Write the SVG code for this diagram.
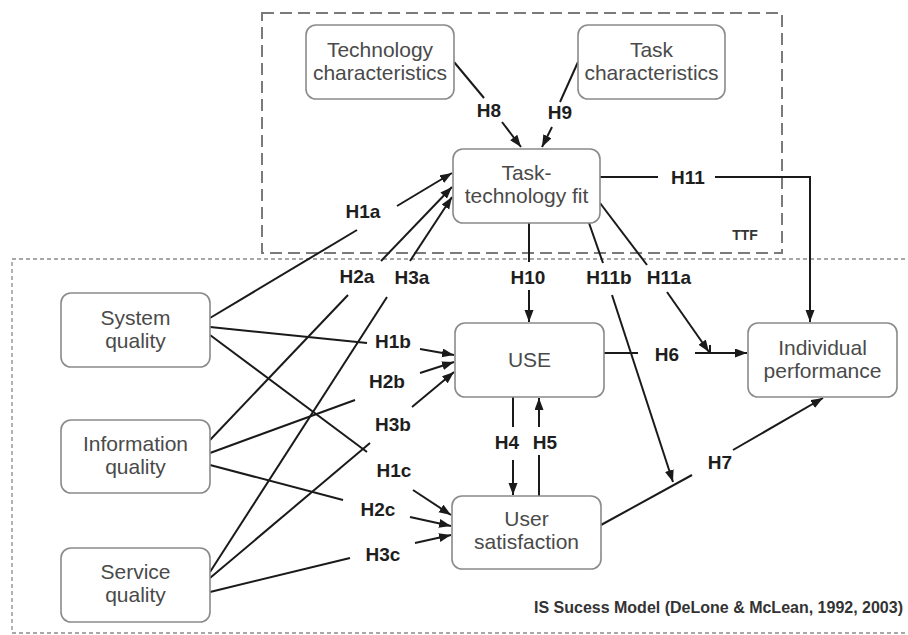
<svg xmlns="http://www.w3.org/2000/svg" width="908" height="635" viewBox="0 0 908 635">
<defs>
<marker id="ah" markerUnits="userSpaceOnUse" markerWidth="13" markerHeight="10" refX="12" refY="4.5" orient="auto">
<path d="M0,0 L12,4.5 L0,9 z" fill="#1a1a1a"/>
</marker>
<style>
.box{fill:#fff;stroke:#8a8a8a;stroke-width:1.6}
.nt{font-family:"Liberation Sans",Arial,sans-serif;font-size:21px;fill:#4a4a4a;text-anchor:middle}
.lb{font-family:"Liberation Sans",Arial,sans-serif;font-size:19px;font-weight:bold;fill:#1e1e1e;text-anchor:middle;dominant-baseline:central}
.ln{stroke:#1a1a1a;stroke-width:2;fill:none}
.ar{stroke:#1a1a1a;stroke-width:2;fill:none;marker-end:url(#ah)}
.fr1{fill:none;stroke:#7a7a7a;stroke-width:2;stroke-dasharray:12 6}
.fr2{fill:none;stroke:#8a8a8a;stroke-width:1.3;stroke-dasharray:4 3}
.ft{font-family:"Liberation Sans",Arial,sans-serif;font-weight:bold;fill:#333}
</style>
</defs>
<rect width="908" height="635" fill="#fff"/>

<g id="frames">
<rect class="fr1" x="262" y="13" width="520" height="240"/>
<rect class="fr2" x="12" y="259" width="900" height="374"/>
<text class="ft" x="745" y="240" font-size="14" text-anchor="middle">TTF</text>
<text class="ft" x="903" y="613" font-size="16" text-anchor="end">IS Sucess Model (DeLone &amp; McLean, 1992, 2003)</text>
</g>

<g id="connectors">
<!-- H8, H9 -->
<line class="ln" x1="454" y1="62" x2="484" y2="98"/>
<line class="ar" x1="502" y1="122" x2="521" y2="147"/>
<line class="ln" x1="578" y1="62" x2="560" y2="102"/>
<line class="ar" x1="552" y1="127" x2="542" y2="147"/>
<!-- H11 -->
<line class="ln" x1="600" y1="177" x2="658" y2="177"/>
<polyline class="ar" points="715,177 810,177 810,322"/>
<!-- H10 -->
<line class="ln" x1="529" y1="223" x2="529" y2="262"/>
<line class="ar" x1="529" y1="290" x2="529" y2="322"/>
<!-- H11b -->
<line class="ln" x1="589" y1="223" x2="603" y2="263"/>
<line class="ar" x1="612" y1="295" x2="673" y2="482"/>
<!-- H11a -->
<line class="ln" x1="600" y1="203" x2="647" y2="265"/>
<line class="ar" x1="667" y1="292" x2="709" y2="352"/>
<line class="ln" x1="710" y1="345" x2="710" y2="353"/>
<!-- H6 -->
<line class="ln" x1="604" y1="353" x2="638" y2="353"/>
<line class="ar" x1="695" y1="353" x2="747" y2="353"/>
<!-- H4, H5 -->
<line class="ln" x1="513" y1="397" x2="513" y2="427"/>
<line class="ar" x1="513" y1="460" x2="513" y2="495"/>
<line class="ln" x1="539" y1="496" x2="539" y2="455"/>
<line class="ar" x1="539" y1="427" x2="539" y2="398"/>
<!-- H7 -->
<line class="ln" x1="601" y1="525" x2="692" y2="475"/>
<line class="ar" x1="733" y1="450" x2="823" y2="398"/>
<!-- H1a, H2a, H3a -->
<line class="ln" x1="210" y1="318" x2="357" y2="230"/>
<line class="ar" x1="397" y1="206" x2="452" y2="173"/>
<line class="ln" x1="210" y1="440" x2="348" y2="295"/>
<line class="ar" x1="381" y1="261" x2="452" y2="187"/>
<line class="ln" x1="210" y1="572" x2="387" y2="297"/>
<line class="ar" x1="410" y1="261" x2="452" y2="197"/>
<!-- H1b, H2b, H3b -->
<line class="ln" x1="210" y1="327" x2="367" y2="343"/>
<line class="ar" x1="420" y1="349" x2="454" y2="355"/>
<line class="ln" x1="210" y1="453" x2="355" y2="400"/>
<line class="ar" x1="420" y1="373" x2="454" y2="362"/>
<line class="ln" x1="210" y1="578" x2="370" y2="443"/>
<line class="ar" x1="412" y1="407" x2="454" y2="372"/>
<!-- H1c, H2c, H3c -->
<line class="ln" x1="210" y1="335" x2="367" y2="452"/>
<line class="ar" x1="413" y1="490" x2="451" y2="515"/>
<line class="ln" x1="210" y1="465" x2="343" y2="500"/>
<line class="ar" x1="410" y1="517" x2="451" y2="526"/>
<line class="ln" x1="210" y1="592" x2="350" y2="558"/>
<line class="ar" x1="415" y1="543" x2="451" y2="535"/>

<text class="lb" x="489" y="110">H8</text>
<text class="lb" x="560" y="112">H9</text>
<text class="lb" x="688" y="177">H11</text>
<text class="lb" x="363" y="211">H1a</text>
<text class="lb" x="357" y="276">H2a</text>
<text class="lb" x="412" y="277">H3a</text>
<text class="lb" x="528" y="277">H10</text>
<text class="lb" x="609" y="277">H11b</text>
<text class="lb" x="669" y="277">H11a</text>
<text class="lb" x="393" y="341">H1b</text>
<text class="lb" x="667" y="354">H6</text>
<text class="lb" x="387" y="381">H2b</text>
<text class="lb" x="393" y="424">H3b</text>
<text class="lb" x="507" y="442">H4</text>
<text class="lb" x="545" y="442">H5</text>
<text class="lb" x="394" y="470">H1c</text>
<text class="lb" x="720" y="462">H7</text>
<text class="lb" x="378" y="509">H2c</text>
<text class="lb" x="383" y="554">H3c</text>
</g>

<g id="tech">
<rect class="box" x="306" y="25" width="148" height="74" rx="10"/>
<text class="nt" x="380" y="57">Technology</text>
<text class="nt" x="380" y="80">characteristics</text>
</g>
<g id="task">
<rect class="box" x="578" y="25" width="147" height="74" rx="10"/>
<text class="nt" x="651.5" y="57">Task</text>
<text class="nt" x="651.5" y="80">characteristics</text>
</g>
<g id="ttf">
<rect class="box" x="453" y="149" width="147" height="74" rx="10"/>
<text class="nt" x="526.5" y="180">Task-</text>
<text class="nt" x="526.5" y="203">technology fit</text>
</g>
<g id="system">
<rect class="box" x="61" y="293" width="149" height="74" rx="10"/>
<text class="nt" x="135.5" y="325">System</text>
<text class="nt" x="135.5" y="348">quality</text>
</g>
<g id="information">
<rect class="box" x="61" y="420" width="149" height="73" rx="10"/>
<text class="nt" x="135.5" y="451">Information</text>
<text class="nt" x="135.5" y="474">quality</text>
</g>
<g id="service">
<rect class="box" x="61" y="548" width="149" height="74" rx="10"/>
<text class="nt" x="135.5" y="579">Service</text>
<text class="nt" x="135.5" y="602">quality</text>
</g>
<g id="use">
<rect class="box" x="455" y="323" width="149" height="74" rx="10"/>
<text class="nt" x="529.5" y="367">USE</text>
</g>
<g id="satisfaction">
<rect class="box" x="452" y="496" width="149" height="73" rx="10"/>
<text class="nt" x="526.5" y="526">User</text>
<text class="nt" x="526.5" y="549">satisfaction</text>
</g>
<g id="performance">
<rect class="box" x="748" y="323" width="149" height="74" rx="10"/>
<text class="nt" x="822.5" y="355">Individual</text>
<text class="nt" x="822.5" y="378">performance</text>
</g>
</svg>
